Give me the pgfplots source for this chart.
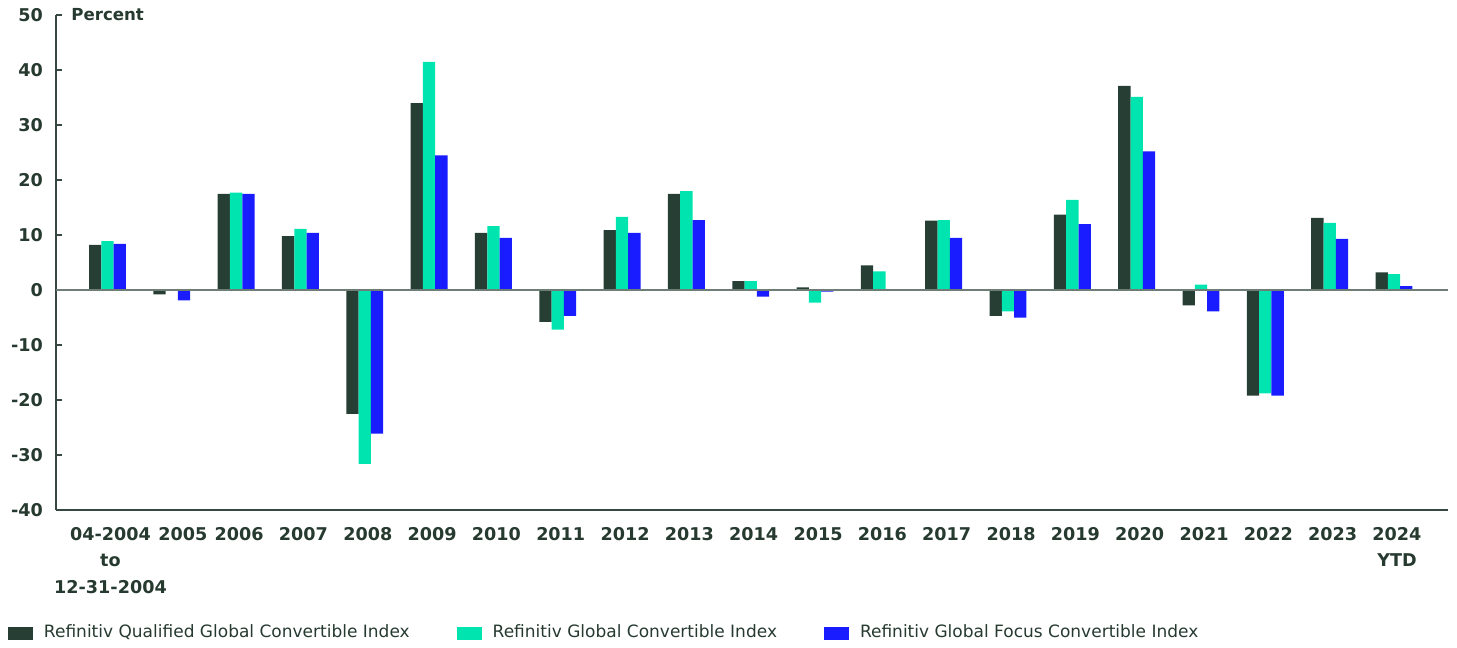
\documentclass[border=0pt]{standalone}
\usepackage{pgfplots}
\pgfplotsset{compat=1.18}
\usepackage{pgfplotstable}
\usepackage{fontspec}
\setmainfont{DejaVu Sans}
\definecolor{cdark}{RGB}{38,62,52}
\definecolor{cteal}{RGB}{0,229,176}
\definecolor{cblue}{RGB}{24,28,255}
\definecolor{ctext}{RGB}{38,58,48}
\definecolor{caxis}{RGB}{55,72,64}
\definecolor{czero}{RGB}{110,125,118}

\pgfplotstableread{
x q g f
0 8.2 8.9 8.4
1 -0.8 -0.1 -1.9
2 17.5 17.7 17.5
3 9.8 11.1 10.4
4 -22.5 -31.6 -26.1
5 34.0 41.5 24.5
6 10.4 11.6 9.5
7 -5.8 -7.2 -4.7
8 10.9 13.3 10.4
9 17.5 18.0 12.7
10 1.6 1.6 -1.2
11 0.5 -2.3 -0.3
12 4.5 3.4 0.1
13 12.6 12.7 9.5
14 -4.7 -3.9 -5.0
15 13.7 16.4 12.0
16 37.1 35.1 25.2
17 -2.8 1.0 -3.9
18 -19.2 -18.8 -19.2
19 13.1 12.2 9.3
20 3.2 2.9 0.7
}\data

\begin{document}
\begin{tikzpicture}
\useasboundingbox (-28pt,-69pt) rectangle (700.5pt,255pt);
\begin{axis}[
  at={(0,0)}, anchor=south west,
  scale only axis, width=696pt, height=247.5pt,
  xmin=-0.8, xmax=20.84, ymin=-40, ymax=50,
  clip=false, axis on top,
  axis x line*=bottom, axis y line*=left,
  axis line style={caxis, line width=0.9pt, -},
  ybar=0pt, bar width=6.15pt,
  xtick={0,...,20},
  xticklabels={{04-2004\\to\\12-31-2004},{\hspace*{8pt}2005},2006,2007,2008,2009,2010,2011,2012,2013,2014,2015,2016,2017,2018,2019,2020,2021,2022,2023,{2024\\YTD}},
  x tick style={draw=none}, 
  xticklabel style={align=center, font=\bfseries\fontsize{8.8}{13.25}\selectfont, text=ctext, yshift=-5pt, xshift=1.5pt},
  ytick={-40,-30,...,50},
  yticklabels={-40,-30,-20,-10,0,10,20,30,40,50},
  yticklabel style={font=\bfseries\fontsize{8.8}{10}\selectfont, text=ctext, xshift=-3pt},
  y tick style={caxis, line width=0.8pt},
  tick align=inside, major tick length=2.8pt,
  extra y ticks={0}, extra y tick labels={},
  extra y tick style={grid=major, major grid style={czero, line width=1pt}, major tick length=0pt},
  legend columns=3,
  legend style={at={(axis description cs:0,0)}, anchor=west, xshift=-24pt, yshift=-61.5pt,
    draw=none, fill=none, inner sep=0pt, outer sep=0pt,
    font=\fontsize{8.5}{10}\selectfont, text=ctext,
    nodes={inner xsep=0pt},
    /tikz/every odd column/.append style={column sep=5.5pt},
    /tikz/every even column/.append style={column sep=23.5pt}},
  legend image code/.code={\fill[#1] (0pt,-3.25pt) rectangle (12.5pt,3.25pt);},
]
\addplot[fill=cdark, draw=none] table[x=x,y=q]{\data};
\addplot[fill=cteal, draw=none] table[x=x,y=g]{\data};
\addplot[fill=cblue, draw=none] table[x=x,y=f]{\data};
\legend{Refinitiv Qualified Global Convertible Index, Refinitiv Global Convertible Index, Refinitiv Global Focus Convertible Index}
\node[anchor=west, font=\bfseries\fontsize{8.3}{10}\selectfont, text=ctext, inner sep=0pt] at (rel axis cs:0,1) [xshift=7.5pt] {Percent};
\end{axis}
\end{tikzpicture}
\end{document}
